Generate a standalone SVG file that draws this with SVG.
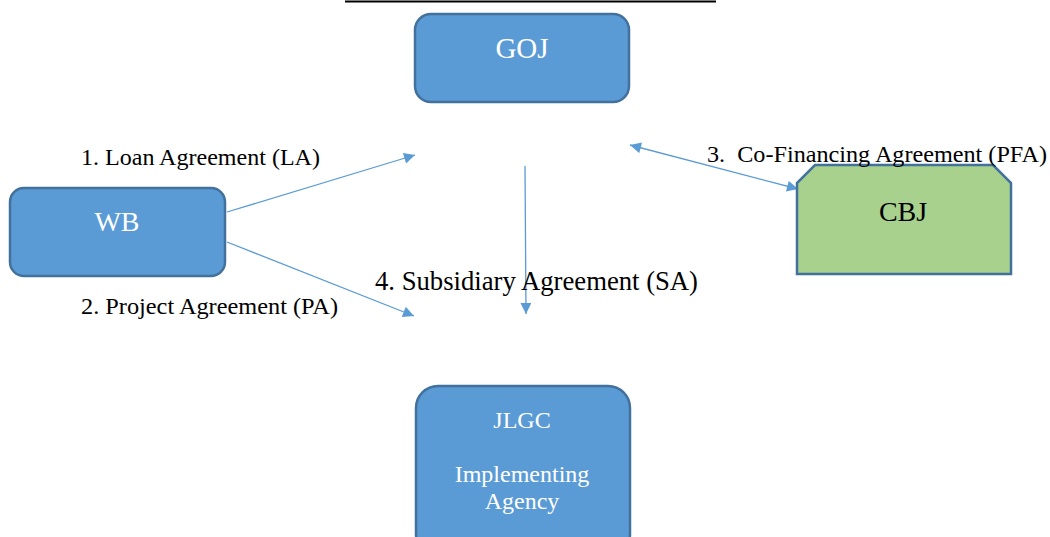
<svg xmlns="http://www.w3.org/2000/svg" width="1050" height="537" viewBox="0 0 1050 537">
<style>
.box{fill:#5B9BD5;stroke:#41719C;stroke-width:2.5}
.wt{fill:#fff;font-family:"Liberation Serif","Times New Roman",serif;text-anchor:middle}
.lbl{fill:#000;font-family:"Liberation Serif","Times New Roman",serif}
.con{stroke:#5B9BD5;stroke-width:1.3;fill:none}
</style>
<defs>
<marker id="ah" viewBox="0 0 10 10" refX="10" refY="5" markerWidth="14" markerHeight="11" markerUnits="userSpaceOnUse" orient="auto-start-reverse">
<path d="M0,0 L10,5 L0,10 z" fill="#5B9BD5"/>
</marker>
</defs>
<rect width="1050" height="537" fill="#fff"/>
<line x1="345" y1="1.5" x2="716" y2="1.5" stroke="#000" stroke-width="2"/>
<g id="connectors">
<line class="con" x1="227" y1="212" x2="415" y2="155" marker-end="url(#ah)"/>
<line class="con" x1="227" y1="242" x2="414" y2="316" marker-end="url(#ah)"/>
<line class="con" x1="525" y1="166" x2="526" y2="314" marker-end="url(#ah)"/>
<line class="con" x1="630" y1="145" x2="798" y2="189" marker-start="url(#ah)" marker-end="url(#ah)"/>
</g>
<g id="goj">
<rect class="box" x="415" y="14" width="214" height="88" rx="16"/>
<text class="wt" x="522" y="58" font-size="29">GOJ</text>
</g>
<g id="wb">
<rect class="box" x="10" y="188" width="215" height="88" rx="14"/>
<text class="wt" x="117" y="231" font-size="28">WB</text>
</g>
<g id="cbj">
<path d="M815,165 L993,165 L1011,183 L1011,274 L797,274 L797,183 Z" fill="#A9D18E" stroke="#41719C" stroke-width="2.5"/>
<text x="903" y="221" font-size="28" text-anchor="middle" class="lbl">CBJ</text>
</g>
<g id="jlgc">
<rect class="box" x="416" y="386" width="214" height="170" rx="22"/>
<text class="wt" x="522" y="428" font-size="24">JLGC</text>
<text class="wt" x="522" y="482" font-size="24">Implementing</text>
<text class="wt" x="522" y="509" font-size="24">Agency</text>
</g>
<g id="labels">
<text class="lbl" x="81" y="165" font-size="24" textLength="239" lengthAdjust="spacingAndGlyphs">1. Loan Agreement (LA)</text>
<text class="lbl" x="81" y="314" font-size="24" textLength="257" lengthAdjust="spacingAndGlyphs">2. Project Agreement (PA)</text>
<text class="lbl" x="375" y="290" font-size="26.5" textLength="323" lengthAdjust="spacingAndGlyphs">4. Subsidiary Agreement (SA)</text>
<text class="lbl" x="707" y="162" font-size="24" xml:space="preserve" textLength="340" lengthAdjust="spacingAndGlyphs">3.  Co-Financing Agreement (PFA)</text>
</g>
</svg>
